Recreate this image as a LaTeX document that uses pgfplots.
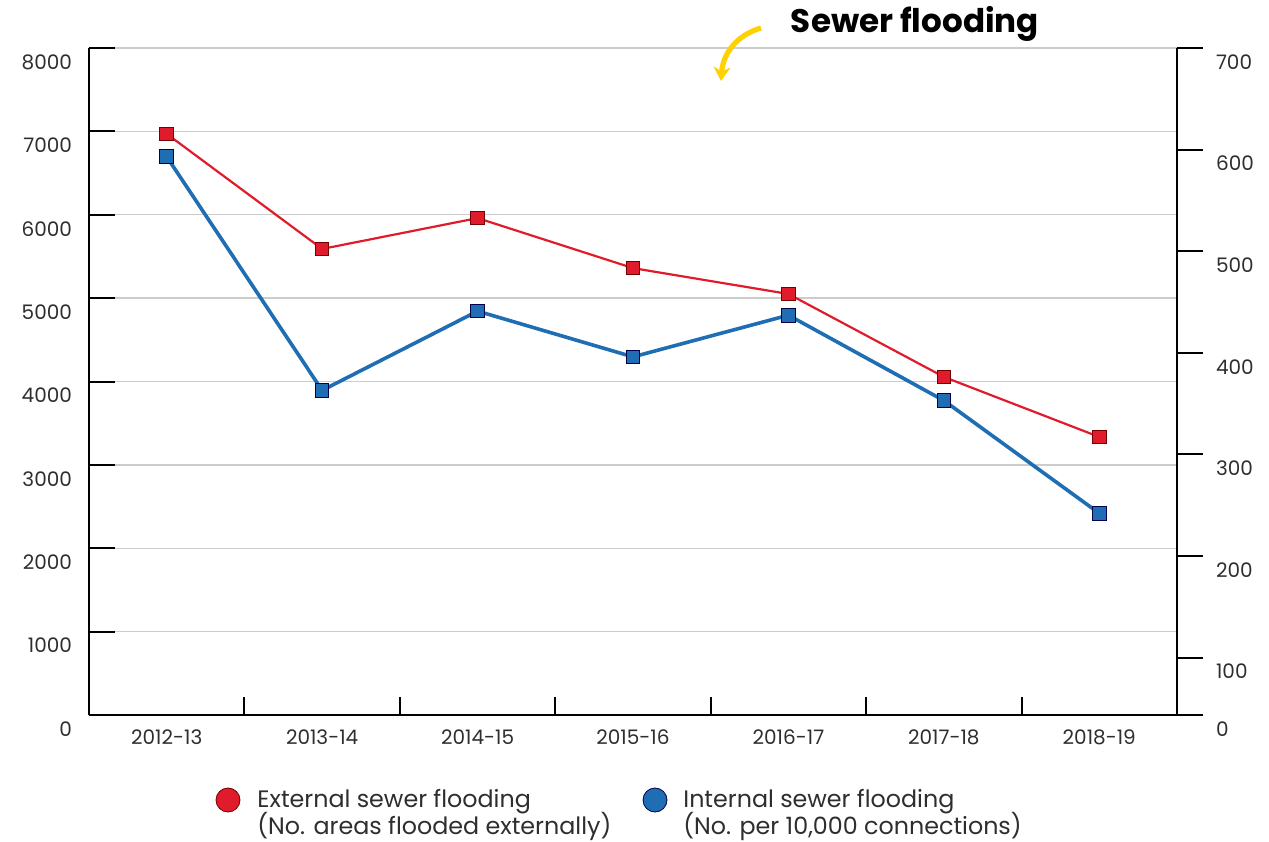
\documentclass[border=0pt]{standalone}
\usepackage{pgfplots}
\pgfplotsset{compat=1.18}
\usepackage{fontspec}
\setmainfont{Poppins}
\usetikzlibrary{arrows.meta}
\definecolor{extred}{HTML}{E01C2C}
\definecolor{intblue}{HTML}{1F6EB4}
\definecolor{txt}{HTML}{2E2E2E}
\definecolor{arrowyellow}{HTML}{FFD100}

\pgfplotstableread{
x ext
0 6970
1 5590
2 5960
3 5360
4 5050
5 4055
6 3335
}\external

\pgfplotstableread{
x int
0 593
1 363
2 441
3 396
4 437
5 353
6 242
}\internal

\begin{document}
\begin{tikzpicture}
\useasboundingbox (-44.5pt,-63pt) rectangle (590pt,357.5pt);
\pgfplotsset{every axis/.append style={
  scale only axis, width=544pt, height=333.5pt, at={(0,0)}, anchor=south west,
  xmin=-0.5, xmax=6.5,
  ticklabel style={font=\fontsize{10}{12}\selectfont, text=txt},
  /pgf/number format/assume math mode=true, /pgf/number format/1000 sep={},
  tick style={black, line width=1pt},
  axis line style={-, black, line width=1.2pt}}}
\begin{axis}[axis x line*=bottom, axis y line*=left,
  ymin=0, ymax=8000, ytick={0,1000,...,8000},
  ymajorgrids, grid style={gray!40, line width=0.7pt},
  tick align=inside, major tick length=13pt,
  yticklabel style={yshift=-7pt, xshift=-5pt},
  xtick={0,...,6}, xticklabels={2012-13,2013-14,2014-15,2015-16,2016-17,2017-18,2018-19},
  major x tick style={draw=none}, xticklabel style={yshift=-4pt},
  minor xtick={-0.5,0.5,...,6.5}, minor tick length=9pt]
\addplot[extred, line width=1.1pt, mark=square*, mark size=3.4pt,
  mark options={fill=extred, draw=red!45!black, line width=0.5pt}] table[x=x, y=ext] {\external};
\end{axis}
\begin{axis}[axis x line=none, axis y line*=right,
  ymin=43.5, ymax=700, ytick={100,200,...,700},
  extra y ticks={43.5}, extra y tick labels={0},
  tick align=outside, major tick length=13pt,
  yticklabel style={yshift=-7pt, xshift=3pt}]
\addplot[intblue, line width=1.8pt, mark=square*, mark size=3.4pt,
  mark options={fill=intblue, draw=blue!30!black, line width=0.5pt}] table[x=x, y=int] {\internal};
\end{axis}
% title and hand-drawn arrow
\node[font=\bfseries\fontsize{16.3}{19}\selectfont, text=black] at (413pt,345.5pt) {Sewer flooding};
\draw[arrowyellow, line width=2.6pt, -{Stealth[length=7pt, width=8.5pt]}]
  (336pt,343.5pt) .. controls (324pt,340pt) and (317pt,331pt) .. (316pt,317pt);
% legend
\fill[extred, draw=red!45!black, line width=0.4pt] (69.5pt,-42.5pt) circle (6pt);
\fill[intblue, draw=blue!30!black, line width=0.4pt] (283pt,-42.5pt) circle (6pt);
\begin{scope}[every node/.style={anchor=base west, font=\fontsize{11.9}{14}\selectfont, text=txt, inner sep=0pt}]
\node at (84pt,-46pt) {External sewer flooding};
\node at (84pt,-59.8pt) {(No. areas flooded externally)};
\node at (297pt,-46pt) {Internal sewer flooding};
\node at (297pt,-59.8pt) {(No. per 10,000 connections)};
\end{scope}
\end{tikzpicture}
\end{document}
